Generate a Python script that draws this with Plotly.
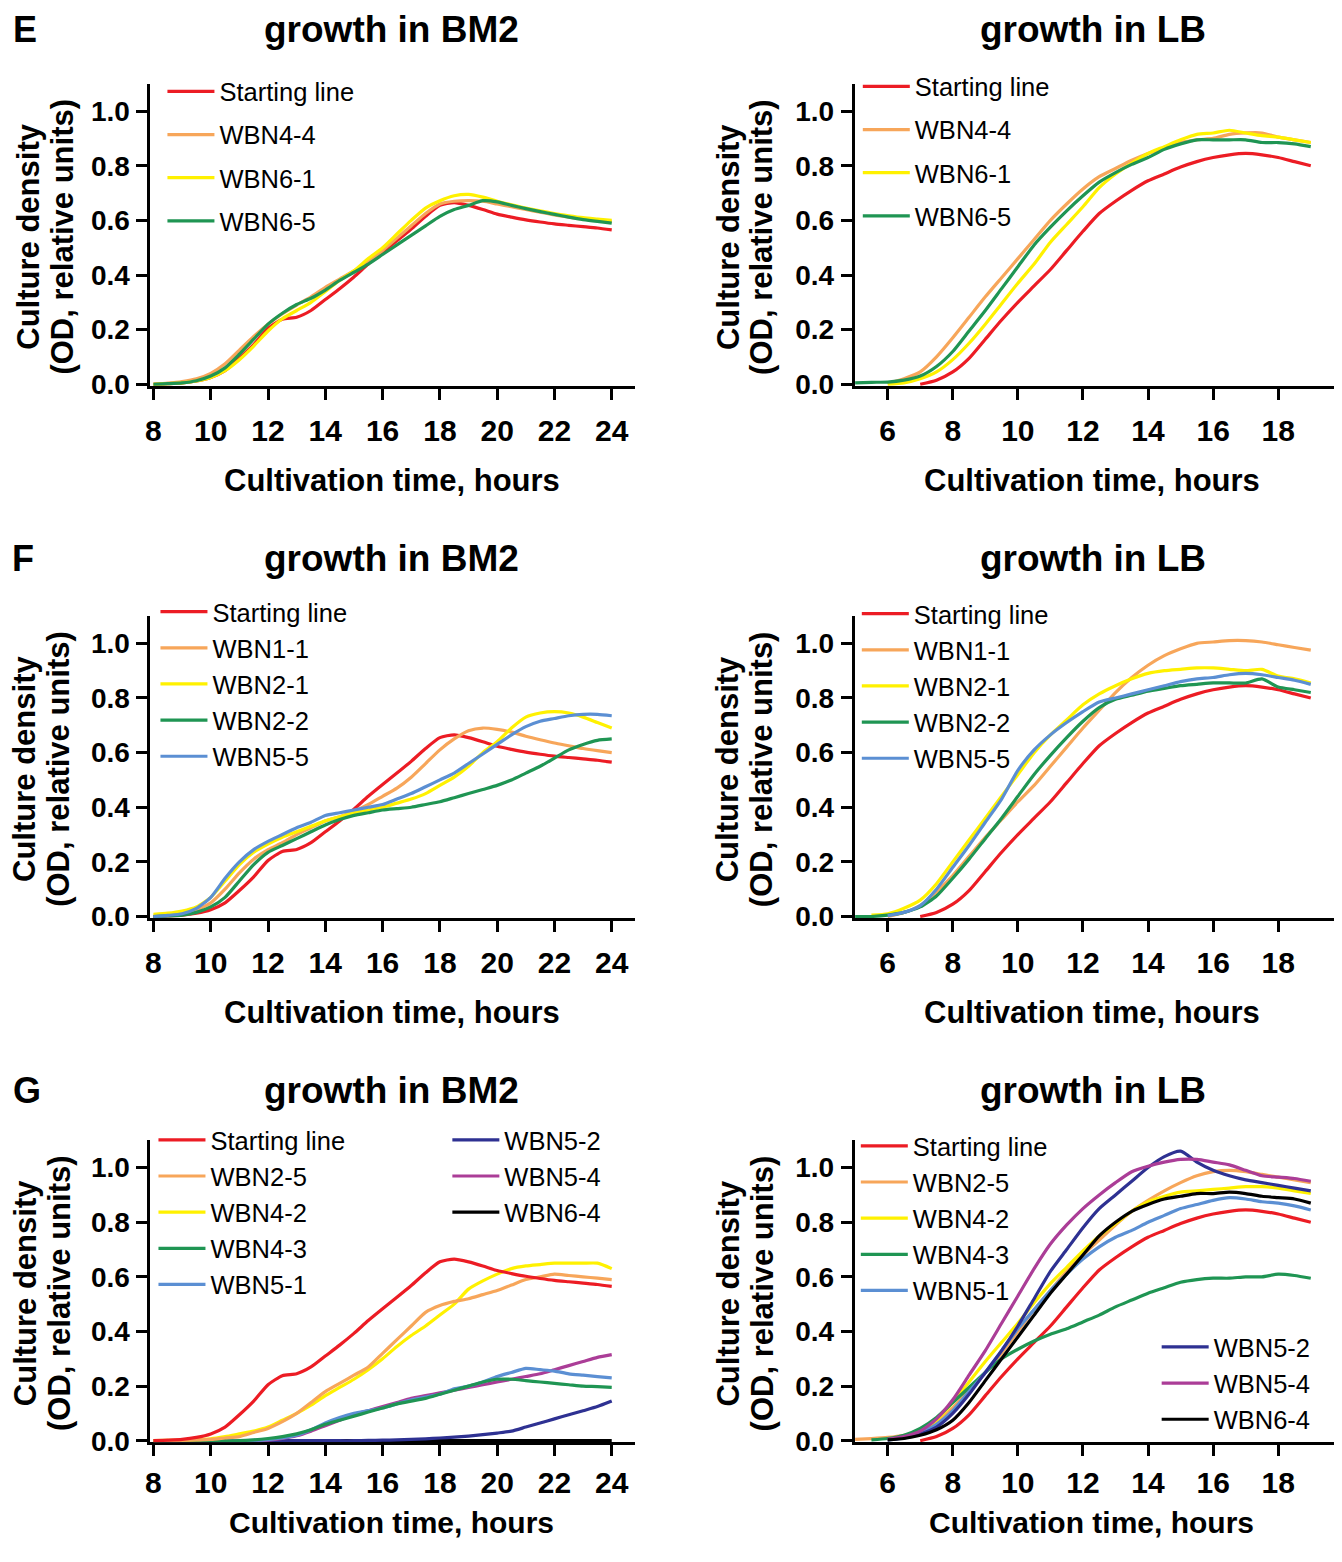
import plotly.graph_objects as go

W, H = 1342, 1562
OFF = 8                              # default page margin around the figure
FW, FH = W - 2 * OFF, H - 2 * OFF    # figure fits the window exactly
VS = 0.9905                          # observed vertical scale of the captured picture
FONT = "Liberation Sans"

# ---------------- time axes ----------------
t_bm2 = [8, 8.5, 9, 9.5, 10, 10.5, 11, 11.5, 12, 12.5, 13, 13.5, 14, 14.5, 15, 15.5, 16,
         16.5, 17, 17.5, 18, 18.5, 19, 19.5, 20, 20.5, 21, 21.5, 22, 22.5, 23, 23.5, 24]
t_lb = [5, 5.5, 6, 6.5, 7, 7.5, 8, 8.5, 9, 9.5, 10, 10.5, 11, 11.5, 12, 12.5, 13, 13.5,
        14, 14.5, 15, 15.5, 16, 16.5, 17, 17.5, 18, 18.5, 19]

bm2_ticks = [8, 10, 12, 14, 16, 18, 20, 22, 24]
lb_ticks = [6, 8, 10, 12, 14, 16, 18]
y_ticks = [0.0, 0.2, 0.4, 0.6, 0.8, 1.0]

# ---------------- BM2 series ----------------
bm2_start = [0.0, 0.002, 0.005, 0.012, 0.025, 0.05, 0.095, 0.145, 0.205, 0.238, 0.245, 0.27,
             0.31, 0.35, 0.393, 0.44, 0.483, 0.525, 0.568, 0.615, 0.655, 0.665, 0.655, 0.64,
             0.623, 0.612, 0.602, 0.594, 0.587, 0.582, 0.577, 0.572, 0.565]
bm2_wbn4_4 = [0.0, 0.004, 0.01, 0.02, 0.04, 0.075, 0.125, 0.175, 0.22, 0.258, 0.29, 0.32,
              0.355, 0.385, 0.415, 0.45, 0.49, 0.535, 0.58, 0.625, 0.66, 0.67, 0.672, 0.67,
              0.66, 0.65, 0.64, 0.63, 0.62, 0.612, 0.605, 0.6, 0.595]
bm2_wbn6_1 = [0.0, 0.002, 0.005, 0.012, 0.025, 0.05, 0.09, 0.14, 0.195, 0.24, 0.27, 0.3,
              0.34, 0.38, 0.415, 0.46, 0.5, 0.55, 0.6, 0.645, 0.672, 0.69, 0.695, 0.685,
              0.67, 0.657, 0.645, 0.635, 0.625, 0.617, 0.61, 0.605, 0.6]
bm2_wbn6_5 = [0.0, 0.002, 0.005, 0.013, 0.03, 0.06, 0.11, 0.165, 0.22, 0.26, 0.292, 0.315,
              0.345, 0.38, 0.41, 0.44, 0.475, 0.51, 0.545, 0.58, 0.615, 0.64, 0.655, 0.672,
              0.668, 0.655, 0.643, 0.632, 0.622, 0.612, 0.603, 0.596, 0.59]
bm2_wbn1_1 = [0.002, 0.005, 0.01, 0.025, 0.05, 0.10, 0.16, 0.21, 0.245, 0.27, 0.30, 0.325,
              0.35, 0.365, 0.385, 0.41, 0.44, 0.47, 0.51, 0.56, 0.61, 0.65, 0.68, 0.69,
              0.685, 0.675, 0.66, 0.647, 0.635, 0.625, 0.615, 0.607, 0.60]
bm2_wbn2_1 = [0.008, 0.012, 0.02, 0.035, 0.07, 0.13, 0.19, 0.235, 0.265, 0.29, 0.31, 0.33,
              0.35, 0.365, 0.38, 0.39, 0.40, 0.415, 0.43, 0.45, 0.48, 0.51, 0.55, 0.60,
              0.64, 0.69, 0.73, 0.745, 0.75, 0.745, 0.73, 0.71, 0.69]
bm2_wbn2_2 = [0.0, 0.002, 0.005, 0.015, 0.035, 0.07, 0.13, 0.19, 0.235, 0.26, 0.285, 0.31,
              0.335, 0.355, 0.37, 0.38, 0.39, 0.395, 0.40, 0.41, 0.42, 0.435, 0.45, 0.465,
              0.48, 0.50, 0.525, 0.55, 0.58, 0.61, 0.63, 0.645, 0.65]
bm2_wbn5_5 = [0.0, 0.004, 0.01, 0.03, 0.07, 0.14, 0.20, 0.245, 0.275, 0.30, 0.325, 0.345,
              0.37, 0.38, 0.39, 0.40, 0.41, 0.43, 0.45, 0.475, 0.50, 0.525, 0.56, 0.595,
              0.63, 0.665, 0.695, 0.715, 0.725, 0.735, 0.74, 0.74, 0.735]
bm2_wbn2_5 = [0.0, 0.0, 0.001, 0.003, 0.005, 0.01, 0.015, 0.03, 0.045, 0.07, 0.10, 0.14,
              0.18, 0.21, 0.24, 0.27, 0.32, 0.37, 0.42, 0.47, 0.495, 0.51, 0.52, 0.535,
              0.55, 0.57, 0.59, 0.60, 0.61, 0.605, 0.60, 0.595, 0.59]
bm2_wbn4_2 = [0.0, 0.001, 0.002, 0.004, 0.007, 0.015, 0.025, 0.035, 0.05, 0.075, 0.10, 0.13,
              0.165, 0.195, 0.225, 0.26, 0.30, 0.345, 0.385, 0.42, 0.46, 0.50, 0.555, 0.585,
              0.61, 0.63, 0.64, 0.645, 0.65, 0.65, 0.65, 0.65, 0.63]
bm2_wbn4_3 = [0.0, 0.0, 0.0, 0.0, 0.0, 0.0, 0.0, 0.003, 0.008, 0.015, 0.025, 0.04,
              0.06, 0.075, 0.09, 0.105, 0.12, 0.135, 0.145, 0.155, 0.17, 0.185, 0.20, 0.215,
              0.225, 0.225, 0.22, 0.215, 0.21, 0.205, 0.20, 0.198, 0.195]
bm2_wbn5_1 = [0.0, 0.0, 0.0, 0.0, 0.0, 0.0, 0.0, 0.001, 0.004, 0.01, 0.02, 0.04,
              0.065, 0.085, 0.10, 0.11, 0.12, 0.135, 0.15, 0.16, 0.17, 0.19, 0.20, 0.215,
              0.235, 0.25, 0.265, 0.26, 0.255, 0.245, 0.24, 0.235, 0.23]
bm2_wbn5_2 = [0.0, 0.0, 0.0, 0.0, 0.0, 0.0, 0.0, 0.0, 0.0, 0.0, 0.0, 0.0,
              0.0, 0.0, 0.0, 0.001, 0.002, 0.003, 0.005, 0.007, 0.01, 0.013, 0.017, 0.022,
              0.028, 0.035, 0.05, 0.065, 0.08, 0.095, 0.11, 0.125, 0.145]
bm2_wbn5_4 = [0.0, 0.0, 0.0, 0.0, 0.0, 0.0, 0.0, 0.0, 0.002, 0.008, 0.018, 0.035,
              0.055, 0.075, 0.095, 0.11, 0.125, 0.14, 0.155, 0.165, 0.175, 0.185, 0.195, 0.205,
              0.215, 0.225, 0.235, 0.245, 0.26, 0.275, 0.29, 0.305, 0.315]
bm2_wbn6_4 = [0.0, 0.0, 0.0, 0.0, 0.0, 0.0, 0.0, 0.0, 0.0, 0.0, 0.0, 0.0,
              0.0, 0.0, 0.0, 0.0, 0.0, 0.0, 0.0, 0.0, 0.0, 0.0, 0.0, 0.0,
              0.0, 0.0, 0.0, 0.0, 0.0, 0.0, 0.0, 0.0, 0.0]

# ---------------- LB series ----------------
N = None
lb_start = [N, N, N, N, 0.0, 0.015, 0.045, 0.095, 0.165, 0.235, 0.30, 0.36, 0.42, 0.49,
            0.56, 0.625, 0.67, 0.71, 0.745, 0.77, 0.795, 0.815, 0.83, 0.84, 0.845, 0.84,
            0.83, 0.815, 0.80]
lb_wbn4_4 = [N, N, 0.003, 0.02, 0.045, 0.10, 0.17, 0.245, 0.32, 0.39, 0.46, 0.53, 0.60,
             0.66, 0.715, 0.76, 0.79, 0.82, 0.845, 0.865, 0.885, 0.895, 0.90, 0.915, 0.92,
             0.92, 0.905, 0.895, 0.885]
lb_wbn6_1 = [N, N, 0.0, 0.005, 0.02, 0.045, 0.09, 0.15, 0.22, 0.295, 0.37, 0.44, 0.52,
             0.585, 0.65, 0.72, 0.77, 0.81, 0.845, 0.87, 0.895, 0.915, 0.92, 0.93, 0.92,
             0.91, 0.905, 0.895, 0.885]
lb_wbn6_5 = [0.005, 0.007, 0.008, 0.015, 0.03, 0.065, 0.12, 0.195, 0.27, 0.35, 0.43, 0.51,
             0.575, 0.635, 0.69, 0.74, 0.775, 0.805, 0.83, 0.86, 0.88, 0.895, 0.895, 0.895,
             0.895, 0.885, 0.885, 0.88, 0.87]
lb_wbn1_1 = [N, N, 0.0, 0.015, 0.04, 0.09, 0.15, 0.22, 0.29, 0.355, 0.42, 0.48, 0.55,
             0.62, 0.69, 0.755, 0.82, 0.875, 0.92, 0.955, 0.98, 1.0, 1.005, 1.01, 1.01,
             1.005, 0.995, 0.985, 0.975]
lb_wbn2_1 = [N, 0.005, 0.01, 0.03, 0.06, 0.12, 0.20, 0.28, 0.36, 0.44, 0.52, 0.60, 0.665,
             0.72, 0.775, 0.815, 0.845, 0.87, 0.89, 0.90, 0.905, 0.91, 0.91, 0.905, 0.90,
             0.905, 0.88, 0.87, 0.855]
lb_wbn2_2 = [0.0, 0.0, 0.005, 0.015, 0.035, 0.075, 0.14, 0.21, 0.285, 0.36, 0.44, 0.52,
             0.59, 0.655, 0.715, 0.765, 0.795, 0.81, 0.825, 0.835, 0.845, 0.85, 0.855, 0.855,
             0.855, 0.87, 0.84, 0.83, 0.82]
lb_wbn5_5 = [N, N, 0.003, 0.015, 0.04, 0.10, 0.18, 0.26, 0.345, 0.43, 0.535, 0.61, 0.665,
             0.71, 0.75, 0.785, 0.80, 0.815, 0.83, 0.845, 0.86, 0.87, 0.875, 0.885, 0.89,
             0.885, 0.875, 0.865, 0.85]
lb_wbn2_5 = [0.005, 0.008, 0.012, 0.02, 0.035, 0.065, 0.12, 0.185, 0.25, 0.32, 0.40, 0.48,
             0.55, 0.62, 0.68, 0.735, 0.79, 0.84, 0.88, 0.915, 0.945, 0.97, 0.985, 0.99,
             0.985, 0.975, 0.965, 0.955, 0.945]
lb_wbn4_2 = [N, N, 0.005, 0.015, 0.035, 0.075, 0.14, 0.215, 0.29, 0.36, 0.43, 0.505, 0.575,
             0.635, 0.695, 0.75, 0.795, 0.84, 0.875, 0.895, 0.91, 0.915, 0.92, 0.925, 0.93,
             0.93, 0.925, 0.915, 0.905]
lb_wbn4_3 = [N, 0.003, 0.008, 0.02, 0.045, 0.085, 0.14, 0.195, 0.25, 0.30, 0.335, 0.365,
             0.39, 0.41, 0.435, 0.46, 0.49, 0.515, 0.54, 0.56, 0.58, 0.59, 0.595, 0.595,
             0.60, 0.60, 0.61, 0.605, 0.595]
lb_wbn5_1 = [N, N, 0.003, 0.01, 0.03, 0.06, 0.11, 0.18, 0.25, 0.33, 0.41, 0.48, 0.55,
             0.61, 0.665, 0.71, 0.745, 0.77, 0.80, 0.825, 0.85, 0.865, 0.88, 0.89, 0.885,
             0.875, 0.87, 0.86, 0.845]
lb_wbn5_2 = [N, N, 0.003, 0.01, 0.025, 0.05, 0.10, 0.17, 0.25, 0.33, 0.42, 0.52, 0.62,
             0.70, 0.78, 0.85, 0.90, 0.95, 1.0, 1.04, 1.06, 1.02, 0.99, 0.97, 0.955,
             0.945, 0.935, 0.925, 0.915]
lb_wbn5_4 = [N, N, 0.005, 0.015, 0.035, 0.08, 0.15, 0.24, 0.33, 0.43, 0.53, 0.63, 0.72,
             0.79, 0.85, 0.90, 0.945, 0.985, 1.005, 1.02, 1.03, 1.03, 1.02, 1.01, 0.99,
             0.97, 0.965, 0.96, 0.95]
lb_wbn6_4 = [N, N, 0.003, 0.008, 0.02, 0.04, 0.075, 0.14, 0.22, 0.30, 0.38, 0.46, 0.54,
             0.61, 0.68, 0.75, 0.80, 0.84, 0.865, 0.885, 0.895, 0.905, 0.905, 0.91, 0.905,
             0.895, 0.89, 0.885, 0.87]

# ---------------- colours ----------------
RED = "#EC1C24"
ORANGE = "#F7A65A"
YELLOW = "#FFF100"
GREEN = "#1F9553"
LBLUE = "#5B8FD3"
DBLUE = "#2E3192"
PURPLE = "#AB3D97"
BLACK = "#000000"

panels = {
    1: (t_bm2, [("Starting line", RED, bm2_start, "legend"),
                ("WBN4-4", ORANGE, bm2_wbn4_4, "legend"),
                ("WBN6-1", YELLOW, bm2_wbn6_1, "legend"),
                ("WBN6-5", GREEN, bm2_wbn6_5, "legend")]),
    2: (t_lb, [("Starting line", RED, lb_start, "legend2"),
               ("WBN4-4", ORANGE, lb_wbn4_4, "legend2"),
               ("WBN6-1", YELLOW, lb_wbn6_1, "legend2"),
               ("WBN6-5", GREEN, lb_wbn6_5, "legend2")]),
    3: (t_bm2, [("Starting line", RED, bm2_start, "legend3"),
                ("WBN1-1", ORANGE, bm2_wbn1_1, "legend3"),
                ("WBN2-1", YELLOW, bm2_wbn2_1, "legend3"),
                ("WBN2-2", GREEN, bm2_wbn2_2, "legend3"),
                ("WBN5-5", LBLUE, bm2_wbn5_5, "legend3")]),
    4: (t_lb, [("Starting line", RED, lb_start, "legend4"),
               ("WBN1-1", ORANGE, lb_wbn1_1, "legend4"),
               ("WBN2-1", YELLOW, lb_wbn2_1, "legend4"),
               ("WBN2-2", GREEN, lb_wbn2_2, "legend4"),
               ("WBN5-5", LBLUE, lb_wbn5_5, "legend4")]),
    5: (t_bm2, [("WBN6-4", BLACK, bm2_wbn6_4, "legend6"),
                ("WBN5-2", DBLUE, bm2_wbn5_2, "legend6"),
                ("WBN5-4", PURPLE, bm2_wbn5_4, "legend6"),
                ("WBN5-1", LBLUE, bm2_wbn5_1, "legend5"),
                ("WBN4-3", GREEN, bm2_wbn4_3, "legend5"),
                ("WBN4-2", YELLOW, bm2_wbn4_2, "legend5"),
                ("WBN2-5", ORANGE, bm2_wbn2_5, "legend5"),
                ("Starting line", RED, bm2_start, "legend5")]),
    6: (t_lb, [("Starting line", RED, lb_start, "legend7"),
               ("WBN2-5", ORANGE, lb_wbn2_5, "legend7"),
               ("WBN4-2", YELLOW, lb_wbn4_2, "legend7"),
               ("WBN4-3", GREEN, lb_wbn4_3, "legend7"),
               ("WBN5-1", LBLUE, lb_wbn5_1, "legend7"),
               ("WBN5-2", DBLUE, lb_wbn5_2, "legend8"),
               ("WBN5-4", PURPLE, lb_wbn5_4, "legend8"),
               ("WBN6-4", BLACK, lb_wbn6_4, "legend8")]),
}

legend_order = {
    "Starting line": 0, "WBN4-4": 1, "WBN6-1": 2, "WBN6-5": 3, "WBN1-1": 1, "WBN2-1": 2,
    "WBN2-2": 3, "WBN5-5": 4, "WBN2-5": 1, "WBN4-2": 2, "WBN4-3": 3, "WBN5-1": 4,
    "WBN5-2": 5, "WBN5-4": 6, "WBN6-4": 7,
}

fig = go.Figure()
for p, (tt, series) in panels.items():
    ax = "" if p == 1 else str(p)
    for name, col, vals, leg in series:
        fig.add_trace(go.Scatter(
            x=tt, y=vals, name=name, mode="lines",
            line=dict(color=col, width=3.2, shape="spline", smoothing=0.6),
            connectgaps=False, legend=leg, legendgroup=f"{p}-{name}",
            legendrank=legend_order[name] + 1,
            xaxis="x" + ax, yaxis="y" + ax, showlegend=True,
        ))

# ---------------- layout (positions given in picture pixels) ----------------
def px(x):
    return min(max((x - OFF) / FW, 0.0), 1.0)

def py_page(pg):
    return min(max(1 - (pg - OFF) / FH, 0.0), 1.0)

def py(y):
    return py_page(y / VS)

col_dom = {0: [px(146), px(632)], 1: [px(853), px(1337)]}
row_zero = {0: 384, 1: 916, 2: 1440}
x_standoff = {0: 5, 1: 5, 2: 1}
UNIT = 273.0
Y0, Y1 = -0.006, 1.1

tickfont_x = dict(family=FONT, size=30, color="black", weight="bold")
tickfont_y = dict(family=FONT, size=28, color="black", weight="bold")
layout = dict(
    width=FW, height=FH, margin=dict(l=0, r=0, t=0, b=0),
    paper_bgcolor="white", plot_bgcolor="white", showlegend=True,
)
for p in range(1, 7):
    r = (p - 1) // 2
    c = (p - 1) % 2
    z = row_zero[r]
    top = z - Y1 * UNIT
    bot = z - Y0 * UNIT
    ax = "" if p == 1 else str(p)
    xr = [7.896, 24.8] if c == 0 else [4.99, 19.714]
    xt = bm2_ticks if c == 0 else lb_ticks
    layout["xaxis" + ax] = dict(
        domain=col_dom[c], range=xr, anchor="y" + ax, tickvals=xt,
        showline=True, linecolor="black", linewidth=3, ticks="outside", ticklen=11,
        tickwidth=3, tickcolor="black", showgrid=False, zeroline=False,
        tickfont=tickfont_x, layer="below traces", ticklabelstandoff=x_standoff[r],
        fixedrange=True,
    )
    layout["yaxis" + ax] = dict(
        domain=[py(bot), py(top)], range=[Y0, Y1], anchor="x" + ax, tickvals=y_ticks,
        tickformat=".1f", showline=True, linecolor="black", linewidth=3, ticks="outside",
        ticklen=11, tickwidth=3, tickcolor="black", showgrid=False, zeroline=False,
        tickfont=tickfont_y, layer="below traces", ticklabelstandoff=1, fixedrange=True,
    )

# legends: (reference text-start x, first item centre y, group gap)
LEG_FONT = dict(family=FONT, size=25.5, color="black")
IW = 47
leg_pos = {
    "legend": (224, 91, 7), "legend2": (922, 86, 7), "legend3": (217, 611, 0),
    "legend4": (921, 613, 0), "legend5": (215, 1139, 0), "legend6": (510, 1139, 0),
    "legend7": (920, 1145, 0), "legend8": (1222, 1346, 0),
}
for key, (tx, cy, gap) in leg_pos.items():
    layout[key] = dict(
        x=px(tx - 66), y=py_page(cy / VS - 23), xanchor="left", yanchor="top",
        font=LEG_FONT, bgcolor="rgba(0,0,0,0)", borderwidth=0, itemwidth=IW,
        tracegroupgap=gap, traceorder="grouped", orientation="v",
        itemclick=False, itemdoubleclick=False,
    )

ann = []
def text(x, y, s, size, bold=True, angle=0):
    ann.append(dict(
        x=px(x), y=py(y), xref="paper", yref="paper", text=s, showarrow=False,
        xanchor="center", yanchor="middle", textangle=angle,
        font=dict(family=FONT, size=size, color="black", weight="bold" if bold else "normal"),
    ))

titles_y = [29, 558, 1090]
letters = ["E", "F", "G"]
letters_x = [20, 18, 22]
xtitle_y = [480, 1012, 1522]
for r in range(3):
    text(letters_x[r], titles_y[r], letters[r], 36)
    text(388, titles_y[r], "growth in BM2", 37)
    text(1092, titles_y[r], "growth in LB", 37)
    text(388, xtitle_y[r], "Cultivation time, hours", 30 if r == 2 else 31)
    text(1091, xtitle_y[r], "Cultivation time, hours", 30 if r == 2 else 31)
    cy = row_zero[r] - 0.54 * UNIT
    lx = 24 if r == 0 else 20
    text(lx, cy, "Culture density", 31, angle=-90)
    text(lx + 34, cy, "(OD, relative units)", 31, angle=-90)
    text(726, cy, "Culture density", 31, angle=-90)
    text(760, cy, "(OD, relative units)", 31, angle=-90)

layout["annotations"] = ann
fig.update_layout(**layout)
fig.write_html("out.html", config={"displayModeBar": False})
